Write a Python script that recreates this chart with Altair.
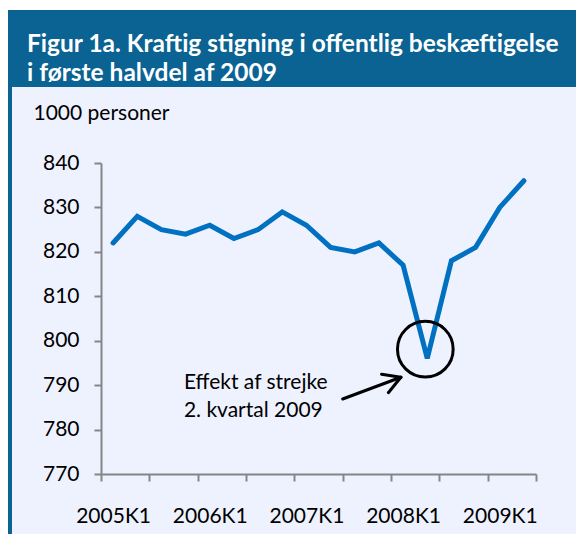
import altair as alt
import pandas as pd

quarters = ["2005K1", "2005K2", "2005K3", "2005K4",
            "2006K1", "2006K2", "2006K3", "2006K4",
            "2007K1", "2007K2", "2007K3", "2007K4",
            "2008K1", "2008K2", "2008K3", "2008K4",
            "2009K1", "2009K2"]
values = [822, 828, 825, 824, 826, 823, 825, 829, 826, 821, 820, 822,
          817, 796, 818, 821, 830, 836]
y_ticks = [770, 780, 790, 800, 810, 820, 830, 840]
x_label_every = 4

title_lines = ["Figur 1a. Kraftig stigning i offentlig beskæftigelse",
               "i første halvdel af 2009"]
y_title = "1000 personer"
note_lines = ["Effekt af strejke", "2. kvartal 2009"]

# annotation positions in data units (x = quarter index, y = 1000 persons)
circle_x, circle_y = [13.42], [798.1]
arrow_x = [10.00, 11.61, 11.89]
arrow_y = [786.88, 792.44, 788.30]
arrow_x2 = [12.41, 12.41, 12.41]
arrow_y2 = [791.77, 791.77, 791.77]
note_x = [3.43, 3.43]
note_y = [790.5, 784.2]

W, H = 435, 311
BG = "#EEF2FE"
HEAD = "#0A6393"
LINE = "#0070C0"
GREY = "#868686"
FONT = "Lato"

n = len(quarters)
df = pd.DataFrame({"pos": [i + 0.5 for i in range(n)], "q": quarters, "v": values})

labels_arr = "[" + ",".join(
    ("'" + quarters[i] + "'") if (i < n and i % x_label_every == 0) else "''"
    for i in range(n + 1)) + "]"

xscale = alt.Scale(domain=[0, n], nice=False, zero=False)
yscale = alt.Scale(domain=[770, 840], nice=False, zero=False)

one = pd.DataFrame({"a": [0]})

header = alt.Chart(one).mark_rect(color=HEAD).encode(
    x=alt.value(-93), x2=alt.value(W + 40), y=alt.value(-153), y2=alt.value(-76))
topwhite = alt.Chart(one).mark_rect(color="white").encode(
    x=alt.value(-93), x2=alt.value(W + 40), y=alt.value(-155), y2=alt.value(-153))
leftbar = alt.Chart(one).mark_rect(color=HEAD).encode(
    x=alt.value(-93), x2=alt.value(-89), y=alt.value(-153), y2=alt.value(H + 70))

tdf = pd.DataFrame({"t": title_lines, "yy": [-118, -89]})
title = alt.Chart(tdf).mark_text(
    align="left", baseline="middle", color="white", font=FONT, fontWeight="bold",
    fontSize=24.5).encode(x=alt.value(-74), y=alt.Y("yy:Q", scale=None), text="t:N")

line = alt.Chart(df).mark_line(color=LINE, strokeWidth=5, strokeCap="round").encode(
    x=alt.X("pos:Q", scale=xscale,
            axis=alt.Axis(values=list(range(n + 1)), labelExpr=labels_arr + "[datum.value]",
                          title=None, grid=False, domainColor=GREY, tickColor=GREY,
                          domainWidth=2, tickWidth=2, tickSize=7, labelOffset=W / n / 2,
                          labelOverlap=False, labelFlush=False, labelBound=False,
                          labelPadding=24, labelFont=FONT, labelFontSize=21,
                          labelColor="black")),
    y=alt.Y("v:Q", scale=yscale,
            axis=alt.Axis(values=y_ticks, title=y_title, titleAngle=0, titleAlign="left",
                          titleBaseline="middle", titleX=-68, titleY=-50,
                          titleFont=FONT, titleFontSize=21, titleFontWeight="normal",
                          titleColor="black", grid=False, domainColor=GREY,
                          tickColor=GREY, domainWidth=2, tickWidth=2, tickSize=7,
                          labelPadding=15, labelFont=FONT, labelFontSize=21,
                          labelColor="black")),
)

cdf = pd.DataFrame({"x": circle_x, "y": circle_y})
circle = alt.Chart(cdf).mark_point(shape="circle", filled=False, color="black",
                                   strokeWidth=3, size=3100, opacity=1).encode(
    x=alt.X("x:Q", scale=xscale), y=alt.Y("y:Q", scale=yscale))

adf = pd.DataFrame({"x": arrow_x, "y": arrow_y, "x2": arrow_x2, "y2": arrow_y2})
arrow = alt.Chart(adf).mark_rule(color="black", strokeWidth=3, strokeCap="round").encode(
    x=alt.X("x:Q", scale=xscale), y=alt.Y("y:Q", scale=yscale), x2="x2:Q", y2="y2:Q")

ndf = pd.DataFrame({"x": note_x, "y": note_y, "t": note_lines})
note = alt.Chart(ndf).mark_text(align="left", baseline="middle", font=FONT,
                                fontSize=21, color="black").encode(
    x=alt.X("x:Q", scale=xscale), y=alt.Y("y:Q", scale=yscale), text="t:N")

chart = alt.layer(topwhite, header, leftbar, title, line, circle, arrow, note).properties(
    width=W, height=H, background=BG,
    padding={"left": 93, "top": 155, "right": 40, "bottom": 60},
    autosize=alt.AutoSizeParams(type="none"),
).configure_view(stroke=None)

chart.save("out.html", embed_options={"renderer": "svg", "actions": False})
